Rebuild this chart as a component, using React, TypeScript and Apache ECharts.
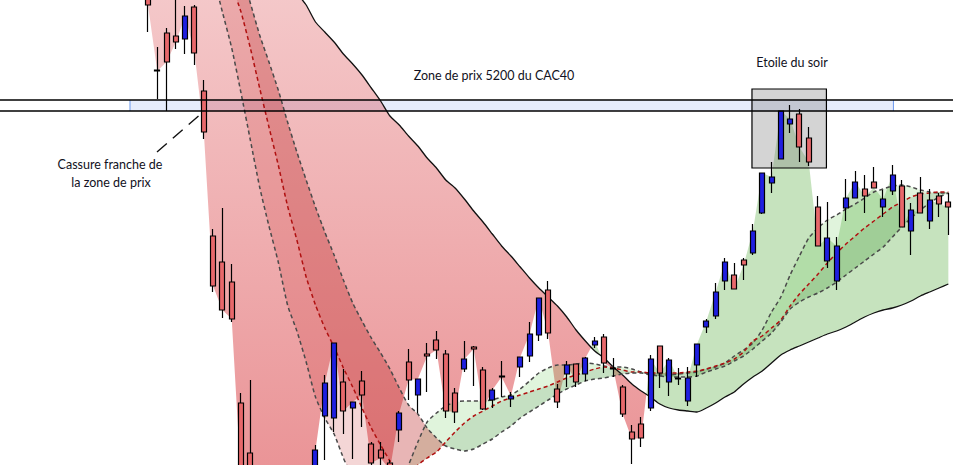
import React, { useEffect, useRef } from "react";
import * as echarts from "echarts";

// Candles (index 0..86), prices in CAC40 points
const opens = [5330,5235,5272,5269,5266,5298,5214,5069,5043,5023, 4902,4852,4785,4750,4725,4750,4720,4765,4810,4889, 4887,4923,4897,4924,4861,4855,4842,4875,4943,4910, 4951,4965,4951,4912,4936,4958,4935,4905,4929,4906, 4938,4949,4970,5015,4916,4931,4941,4931,4960,4968, 4937,4918,4873,4881,4897,4959,4923,4927,4904,4940, 4978,4989,5024,5030,5045,5052,5092,5122,5146,5181, 5191,5167,5098,5044,5024,5097,5107,5116,5123,5098, 5114,5119,5074,5112,5084,5109,5103];
const closes = [5300,5234,5243,5263,5289,5252,5173,5019,4995,4986, 4825,4785,4745,4725,4755,4715,4765,4805,4855,4922, 4962,4894,4903,4910,4842,4847,4835,4892,4925,4926, 4949,4955,4894,4893,4946,4956,4896,4915,4928,4909, 4948,4971,5007,4972,4903,4940,4923,4947,4964,4942, 4936,4891,4866,4867,4946,4932,4945,4926,4927,4961, 4984,5013,5043,5016,5040,5074,5132,5128,5194,5186, 5158,5143,5059,5067,5059,5107,5123,5109,5117,5106, 5130,5078,5095,5092,5105,5101,5098];
const lows = [5273,5206,5194,5256,5251,5240,5166,5013,4987,4983, 4810,4775,4735,4715,4717,4707,4713,4757,4800,4845, 4873,4871,4846,4878,4835,4839,4830,4863,4905,4892, 4913,4946,4887,4882,4933,4919,4895,4897,4908,4898, 4928,4943,4964,4966,4897,4918,4918,4924,4957,4932, 4928,4888,4841,4858,4894,4917,4909,4920,4899,4928, 4972,4986,5015,5016,5025,5050,5091,5112,5146,5172, 5143,5139,5059,5037,5015,5084,5107,5092,5117,5088, 5110,5078,5050,5092,5076,5088,5070];
const highs = [5345,5258,5277,5310,5299,5300,5225,5076,5097,5041, 4912,4925,4793,4757,4765,4757,4773,4815,4860,4930, 4962,4936,4903,4934,4863,4863,4845,4894,4956,4926, 4962,4974,4955,4917,4964,4959,4938,4917,4944,4913, 4948,4983,5007,5024,4921,4944,4941,4948,4968,4971, 4947,4920,4880,4888,4950,4959,4947,4937,4938,4961, 4986,5022,5047,5042,5047,5081,5132,5143,5194,5200, 5196,5178,5109,5103,5068,5126,5134,5130,5138,5115, 5140,5125,5102,5128,5116,5112,5112];

// Long moving average (solid black)
const maLong = [5507,5495,5483,5471,5459,5447,5435,5423,5411,5399, 5387,5375,5363,5351,5338,5325,5312,5300,5283,5273, 5263,5251,5241,5230,5217,5204,5189,5180,5169,5159, 5147,5137,5125,5117,5106,5094,5083,5071,5059,5049, 5038,5027,5017,5008,4999,4988,4975,4964,4954,4947, 4938,4930,4921,4914,4908,4901,4897,4895,4894,4893, 4897,4902,4908,4913,4921,4928,4934,4942,4950,4955, 4959,4963,4967,4971,4974,4978,4983,4988,4992,4995, 4997,5000,5004,5009,5013,5017,5021];
// Dashed averages: fast (grey), mid (red), slow (grey)
const maFast = [5575,5540,5505,5470,5435,5400,5365,5330,5293,5257, 5212,5165,5118,5079,5043,5000,4974,4943,4908,4887, 4871,4847,4827,4810,4800,4797,4805,4820,4840,4863, 4883,4892,4899,4903,4904,4904,4904,4905,4908,4910, 4916,4924,4932,4937,4940,4940,4941,4942,4941,4939, 4938,4938,4936,4933,4931,4930,4930,4931,4932,4933, 4936,4938,4942,4949,4955,4962,4975,4993,5008,5030, 5049,5067,5077,5085,5090,5096,5101,5107,5113,5116, 5119,5120,5118,5115,5113,5112,5112];
const maMid = [5590,5560,5530,5500,5470,5440,5410,5380,5350,5320, 5293,5257,5217,5178,5140,5099,5065,5028,5000,4977, 4958,4937,4918,4897,4877,4860,4844,4830,4827,4840, 4847,4853,4863,4873,4882,4889,4894,4899,4904,4907, 4910,4913,4916,4919,4923,4927,4930,4933,4936,4938, 4937,4935,4933,4933,4932,4932,4932,4932,4933,4934, 4936,4939,4942,4946,4953,4964,4969,4977,4985,4999, 5011,5021,5031,5042,5052,5061,5069,5077,5084,5091, 5098,5103,5108,5111,5112,5113,5113];
const maSlow = [5647,5616,5585,5553,5522,5491,5460,5428,5397,5365, 5333,5302,5270,5243,5215,5183,5153,5125,5098,5073, 5050,5025,5002,4984,4967,4952,4936,4917,4900,4891, 4877,4867,4859,4856,4854,4856,4861,4866,4873,4879, 4887,4893,4899,4905,4911,4916,4920,4924,4926,4927, 4929,4931,4932,4932,4930,4929,4928,4928,4928,4929, 4933,4936,4939,4944,4949,4956,4964,4972,4983,4996, 5003,5008,5012,5017,5023,5030,5037,5044,5051,5058, 5068,5078,5087,5095,5102,5108,5112];

// Annotation positions (data units: candle index, price)
const zoneLow = 5194;
const zoneHigh = 5205;
const zoneFromIdx = -1.93;
const zoneToIdx = 80.1;
const starBox = { fromIdx: 64.9, toIdx: 72.9, low: 5137, high: 5216 };
const labels = {
  zone: "Zone de prix 5200 du CAC40",
  star: "Etoile du soir",
  breakLine1: "Cassure franche de",
  breakLine2: "la zone de prix",
};

const categories = opens.map((_, i) => String(i));

function makeFill(id: string, A: number[], B: number[], colPos: any, colNeg: any, z: number) {
  return {
    id,
    type: "custom",
    z,
    silent: true,
    clip: false,
    data: [[0, A[0]]],
    encode: { x: 0, y: 1 },
    renderItem: (_params: any, api: any) => {
      const children: any[] = [];
      let cur: any = null;
      const flush = () => {
        if (cur && cur.a.length > 1) {
          children.push({
            type: "polygon",
            silent: true,
            shape: { points: cur.a.concat(cur.b.slice().reverse()) },
            style: { fill: cur.s > 0 ? colPos : colNeg },
          });
        }
      };
      for (let i = 0; i < A.length; i++) {
        const d = A[i] - B[i];
        const s = d >= 0 ? 1 : -1;
        const pa = api.coord([i, A[i]]);
        const pb = api.coord([i, B[i]]);
        if (!cur) { cur = { s, a: [pa], b: [pb] }; continue; }
        if (s === cur.s) { cur.a.push(pa); cur.b.push(pb); continue; }
        const dp = A[i - 1] - B[i - 1];
        const t = dp / (dp - d);
        const qa = cur.a[cur.a.length - 1];
        const pc = [qa[0] + (pa[0] - qa[0]) * t, qa[1] + (pa[1] - qa[1]) * t];
        cur.a.push(pc); cur.b.push(pc);
        flush();
        cur = { s, a: [pc, pa], b: [pc, pb] };
      }
      flush();
      return { type: "group", children };
    },
  };
}

function helpers(api: any) {
  const x0 = api.coord([0, zoneLow])[0];
  const x1 = api.coord([1, zoneLow])[0];
  const bw = x1 - x0;
  return { X: (f: number) => x0 + bw * f, Y: (p: number) => api.coord([0, p])[1] };
}

const textStyle = (text: string, x: number, y: number) => ({
  text, x, y,
  align: "center", verticalAlign: "middle", textAlign: "center", textVerticalAlign: "middle",
  font: "12.5px Lato", fill: "#111122",
});

export default function App() {
  const ref = useRef<HTMLDivElement>(null);
  useEffect(() => {
    if (!ref.current) return;
    const chart = echarts.init(ref.current, undefined, { renderer: "svg" });
    const pinkGrad = new echarts.graphic.LinearGradient(0, 0, 0, 465, [
      { offset: 0, color: "rgba(215,50,55,0.27)" },
      { offset: 1, color: "rgba(215,50,55,0.52)" },
    ], true);
    const lineBase = { type: "line", symbol: "none", silent: true, smooth: 0.2 };
    const option: any = {
      animation: false,
      backgroundColor: "#ffffff",
      grid: { left: 143.3, right: -4, top: 0, bottom: 0 },
      xAxis: { type: "category", data: categories, show: false, boundaryGap: true },
      yAxis: { type: "value", min: 4840, max: 5305, show: false, splitLine: { show: false } },
      series: [
        {
          id: "zoneBand", type: "custom", z: 1, silent: true, clip: false,
          data: [[0, zoneLow]], encode: { x: 0, y: 1 },
          renderItem: (_p: any, api: any) => {
            const { X, Y } = helpers(api);
            const xa = X(zoneFromIdx), xb = X(zoneToIdx);
            const ya = Y(zoneHigh), yb = Y(zoneLow);
            return {
              type: "group",
              children: [
                { type: "rect", shape: { x: xa, y: ya, width: xb - xa, height: yb - ya }, style: { fill: "#E6ECFC" } },
                { type: "line", shape: { x1: xa, y1: ya, x2: xa, y2: yb }, style: { stroke: "#6A98EE", lineWidth: 1 } },
                { type: "line", shape: { x1: xb, y1: ya, x2: xb, y2: yb }, style: { stroke: "#6A98EE", lineWidth: 1 } },
              ],
            };
          },
        },
        makeFill("fillPrice", closes, maLong, "rgba(100,180,80,0.37)", pinkGrad, 2),
        makeFill("fillBand1", maFast, maMid, "rgba(100,200,80,0.2)", "rgba(200,50,50,0.2)", 3),
        makeFill("fillBand2", maMid, maSlow, "rgba(90,165,80,0.35)", "rgba(190,50,50,0.36)", 3),
        {
          id: "starBox", type: "custom", z: 4, silent: true, clip: false,
          data: [[0, zoneLow]], encode: { x: 0, y: 1 },
          renderItem: (_p: any, api: any) => {
            const { X, Y } = helpers(api);
            const xa = X(starBox.fromIdx), xb = X(starBox.toIdx);
            const ya = Y(starBox.high), yb = Y(starBox.low);
            return {
              type: "rect",
              shape: { x: xa, y: ya, width: xb - xa, height: yb - ya },
              style: { fill: "rgba(128,128,128,0.34)", stroke: "#000", lineWidth: 1.2 },
            };
          },
        },
        { ...lineBase, id: "long", data: maLong, z: 5, lineStyle: { color: "#111", width: 1.3 } },
        { ...lineBase, id: "fast", data: maFast, z: 5, lineStyle: { color: "#4a4a4a", width: 1.5, type: [4, 3] } },
        { ...lineBase, id: "mid", data: maMid, z: 5, lineStyle: { color: "#b01010", width: 1.5, type: [4, 3] } },
        { ...lineBase, id: "slow", data: maSlow, z: 5, lineStyle: { color: "#4a4a4a", width: 1.5, type: [4, 3] } },
        {
          id: "candles", type: "candlestick", z: 6, barWidth: 5.5, silent: true,
          data: opens.map((o, i) => [o, closes[i], lows[i], highs[i]]),
          itemStyle: {
            color: "#1F1FE0", color0: "#E8686B",
            borderColor: "#000", borderColor0: "#000", borderColorDoji: "#000", borderWidth: 1.2,
          },
        },
        {
          id: "zoneLines", type: "custom", z: 8, silent: true, clip: false,
          data: [[0, zoneLow]], encode: { x: 0, y: 1 },
          renderItem: (_p: any, api: any) => {
            const { X, Y } = helpers(api);
            const xa = X(-20), xb = X(95);
            return {
              type: "group",
              children: [zoneHigh, zoneLow].map((p) => ({
                type: "line",
                shape: { x1: xa, y1: Y(p), x2: xb, y2: Y(p) },
                style: { stroke: "#000", lineWidth: 1.3 },
              })),
            };
          },
        },
      ],
      graphic: [
        { type: "text", z: 100, style: textStyle(labels.zone, 494, 75) },
        { type: "text", z: 100, style: textStyle(labels.star, 792, 62) },
        { type: "text", z: 100, style: textStyle(labels.breakLine1, 110, 164) },
        { type: "text", z: 100, style: textStyle(labels.breakLine2, 111, 182) },
        { type: "line", z: 100, shape: { x1: 157, y1: 152, x2: 203, y2: 112 }, style: { stroke: "#111", lineWidth: 1.4, lineDash: [13, 8] } },
      ],
    };
    chart.setOption(option);
    return () => chart.dispose();
  }, []);
  return (
    <div
      ref={ref}
      style={{ position: "fixed", left: 0, top: 0, width: 953, height: 465, background: "#fff" }}
    />
  );
}
